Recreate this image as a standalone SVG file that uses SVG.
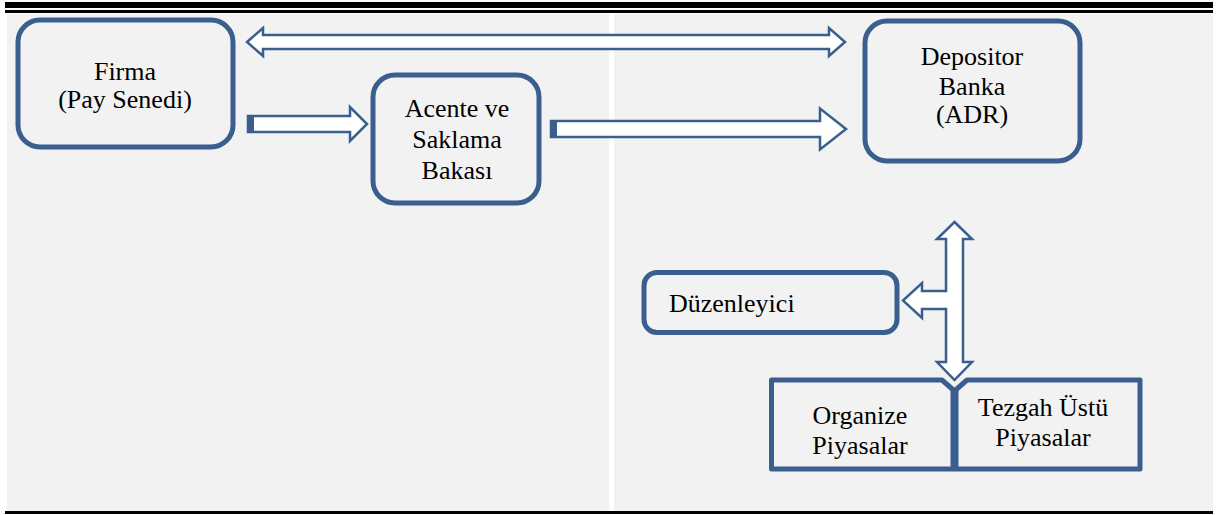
<svg xmlns="http://www.w3.org/2000/svg" width="1217" height="515" viewBox="0 0 1217 515">
<style>
.bg{fill:#f2f2f2}
.node{fill:#f2f2f2;stroke:#3a5f8e;stroke-width:5}
.arrow{fill:#ffffff;stroke:#3a5f8e;stroke-width:2.5;stroke-linejoin:miter}
.cap{fill:#3a5f8e}
.c{text-anchor:middle}
</style>
<rect x="0" y="0" width="1217" height="515" fill="#ffffff"/>
<rect class="bg" x="7" y="14" width="602" height="497"/>
<rect class="bg" x="614" y="14" width="599" height="497"/>
<rect x="5" y="2" width="1208" height="6" fill="#000"/>
<rect x="5" y="10" width="1208" height="3" fill="#000"/>
<rect x="5" y="511" width="1208" height="3" fill="#000"/>

<g id="connectors">
  <polygon class="arrow" points="247,42 263,28 263,35 829,35 829,28 845,42 829,56 829,49 263,49 263,56"/>
  <polygon class="arrow" points="248,116 350,116 350,107 367,124 350,141 350,132 248,132"/>
  <rect class="cap" x="247" y="115" width="7" height="18"/>
  <polygon class="arrow" points="551,121 820,121 820,108.5 846,129 820,149.5 820,137 551,137"/>
  <rect class="cap" x="550" y="120" width="7" height="18"/>
  <polygon class="arrow" points="954.5,222 972,239 963,239 963,362 972,362 954.5,380 937,362 946,362 946,309 922,309 922,318 903,300.5 922,283 922,291 946,291 946,239 937,239"/>
</g>

<g font-family="'Liberation Serif', 'Times New Roman', 'DejaVu Serif', serif" font-size="26" fill="#000">
<g id="firma">
  <rect class="node" x="18" y="20" width="215" height="127" rx="22"/>
  <text class="c" x="125" y="80">Firma</text>
  <text class="c" x="125" y="108">(Pay Senedi)</text>
</g>
<g id="acente">
  <rect class="node" x="373" y="75" width="166" height="128" rx="22"/>
  <text class="c" x="457" y="117">Acente ve</text>
  <text class="c" x="457" y="148">Saklama</text>
  <text class="c" x="457" y="179">Bakası</text>
</g>
<g id="depositor">
  <rect class="node" x="865" y="21" width="215" height="140" rx="22"/>
  <text class="c" x="972" y="65">Depositor</text>
  <text class="c" x="972" y="95">Banka</text>
  <text class="c" x="972" y="123">(ADR)</text>
</g>
<g id="duzenleyici">
  <rect class="node" x="644" y="272.5" width="253" height="60" rx="13"/>
  <text x="669" y="312">Düzenleyici</text>
</g>
<g id="piyasalar">
  <path class="node" d="M771.5,380 H942 L954.5,391 L967,380 H1140 V469 H771.5 Z" stroke-linejoin="round"/>
  <line x1="954.5" y1="389" x2="954.5" y2="469" stroke="#3a5f8e" stroke-width="8"/>
  <text class="c" x="860" y="424">Organize</text>
  <text class="c" x="860" y="454">Piyasalar</text>
  <text class="c" x="1043" y="416">Tezgah Üstü</text>
  <text class="c" x="1043" y="446">Piyasalar</text>
</g>
</g>
</svg>
